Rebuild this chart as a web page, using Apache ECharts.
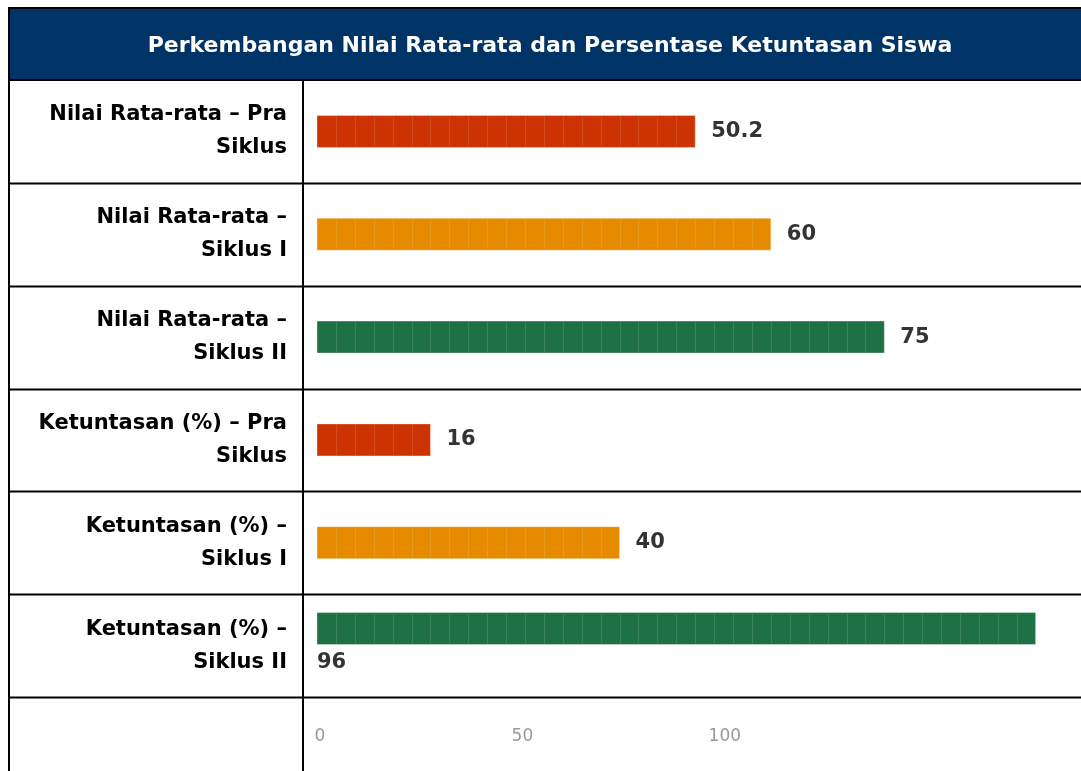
<!DOCTYPE html>
<html>
<head>
<meta charset="utf-8">
<script src="https://cdn.jsdelivr.net/npm/echarts@6/dist/echarts.min.js"></script>
<style>
  html, body { margin: 0; padding: 0; background: #fff; }
  #chart { width: 1081px; height: 771px; }
</style>
</head>
<body>
<div id="chart"></div>
<script>
var titleText = 'Perkembangan Nilai Rata-rata dan Persentase Ketuntasan Siswa';
var categories = [
  'Nilai Rata-rata – Pra Siklus',
  'Nilai Rata-rata – Siklus I',
  'Nilai Rata-rata – Siklus II',
  'Ketuntasan (%) – Pra Siklus',
  'Ketuntasan (%) – Siklus I',
  'Ketuntasan (%) – Siklus II'
];
var values = [50.2, 60, 75, 16, 40, 96];
var barColors = ['#cc3300', '#e68a00', '#1e7145', '#cc3300', '#e68a00', '#1e7145'];
var tickLabels = [0, 50, 100];
var segmentSize = 2.5;   // each bar is built from blocks of 2.5 units

var FONT = 'DejaVu Sans';
var W = 1081, H = 771;
var headTop = 8, headBottom = 80, tableLeft = 9, colDivider = 303;
var gridTop = 80, gridBottom = 74, barLeft = 317;
var rowH = (H - gridBottom - gridTop) / categories.length;
var labelWidth = 260;

var myChart = echarts.init(document.getElementById('chart'));

// wrap row labels by hand so no trailing space is left at line ends
var measureCtx = document.createElement('canvas').getContext('2d');
measureCtx.font = 'bold 21px ' + FONT;
function wrapLabel(text) {
  var words = text.split(' '), out = [], cur = '';
  words.forEach(function (w) {
    var t = cur ? cur + ' ' + w : w;
    if (cur && measureCtx.measureText(t).width > labelWidth) { out.push(cur); cur = w; }
    else cur = t;
  });
  out.push(cur);
  return out.join('\n');
}

// table lines (header + row separators)
var lines = [];
lines.push({ type: 'rect', shape: { x: tableLeft, y: headTop, width: W, height: headBottom - headTop },
  style: { fill: '#003366', stroke: '#000', lineWidth: 2 }, z: 0 });
for (var i = 1; i <= categories.length; i++) {
  var yy = Math.round(gridTop + rowH * i) + 0.5;
  lines.push({ type: 'line', shape: { x1: tableLeft, y1: yy, x2: W, y2: yy },
    style: { stroke: '#000', lineWidth: 2 }, z: 10 });
}
lines.push({ type: 'line', shape: { x1: tableLeft, y1: headTop, x2: tableLeft, y2: H },
  style: { stroke: '#000', lineWidth: 2 }, z: 10 });
lines.push({ type: 'line', shape: { x1: colDivider, y1: headBottom, x2: colDivider, y2: H },
  style: { stroke: '#000', lineWidth: 2 }, z: 10 });

function renderBar(params, api) {
  var val = api.value(0);
  var cat = api.value(1);
  var n = Math.floor(val / segmentSize + 1e-9);
  var p0 = api.coord([0, cat]);
  var segW = api.coord([segmentSize, cat])[0] - p0[0];
  var endX = p0[0] + n * segW;
  var barH = 32;
  var below = endX + 60 > W;
  var cy = below ? p0[1] - 17 : p0[1];
  var color = barColors[params.dataIndex];
  var children = [];
  children.push({ type: 'rect', shape: { x: p0[0], y: cy - barH / 2, width: n * segW, height: barH },
    style: { fill: color, stroke: 'rgba(255,255,255,0.35)', lineWidth: 1 } });
  for (var k = 1; k < n; k++) {
    var lx = Math.round(p0[0] + k * segW) + 0.5;
    children.push({ type: 'line', shape: { x1: lx, y1: cy - barH / 2 + 1, x2: lx, y2: cy + barH / 2 - 1 },
      style: { stroke: 'rgba(255,255,255,0.12)', lineWidth: 1 } });
  }
  children.push({ type: 'text',
    x: below ? p0[0] : endX + 16,
    y: below ? cy + barH / 2 + 18 : cy,
    style: { text: String(val), fill: '#333', fontSize: 21, fontWeight: 'bold', fontFamily: FONT,
      align: 'left', verticalAlign: 'middle' } });
  return { type: 'group', children: children };
}

option = {
  animation: false,
  backgroundColor: '#fff',
  title: {
    text: titleText,
    left: (tableLeft + W) / 2,
    textAlign: 'center',
    top: 30,
    textStyle: { color: '#fff', fontSize: 22, fontWeight: 'bold', fontFamily: FONT }
  },
  graphic: lines,
  grid: [
    { left: barLeft, right: 0, top: gridTop, bottom: gridBottom },
    { left: 320, right: 0, top: 690, height: 30 }
  ],
  xAxis: [
    { type: 'value', gridIndex: 0, min: 0, max: 101, show: false },
    {
      type: 'value', gridIndex: 1, min: 0, max: 188,
      axisLine: { show: false }, axisTick: { show: false }, splitLine: { show: false },
      axisLabel: { customValues: tickLabels, color: '#999', fontSize: 17, fontFamily: FONT, margin: 8 }
    }
  ],
  yAxis: [
    {
      type: 'category', gridIndex: 0, data: categories, inverse: true,
      axisLine: { show: false }, axisTick: { show: false }, splitLine: { show: false },
      axisLabel: {
        margin: 30, align: 'right', formatter: wrapLabel,
        color: '#000', fontSize: 21, fontWeight: 'bold', fontFamily: FONT, lineHeight: 33
      }
    },
    { type: 'value', gridIndex: 1, show: false }
  ],
  series: [
    {
      type: 'custom',
      xAxisIndex: 0, yAxisIndex: 0,
      renderItem: renderBar,
      encode: { x: 0, y: 1 },
      data: values.map(function (v, i) { return [v, i]; }),
      z: 5
    }
  ]
};

myChart.setOption(option);
</script>
</body>
</html>
